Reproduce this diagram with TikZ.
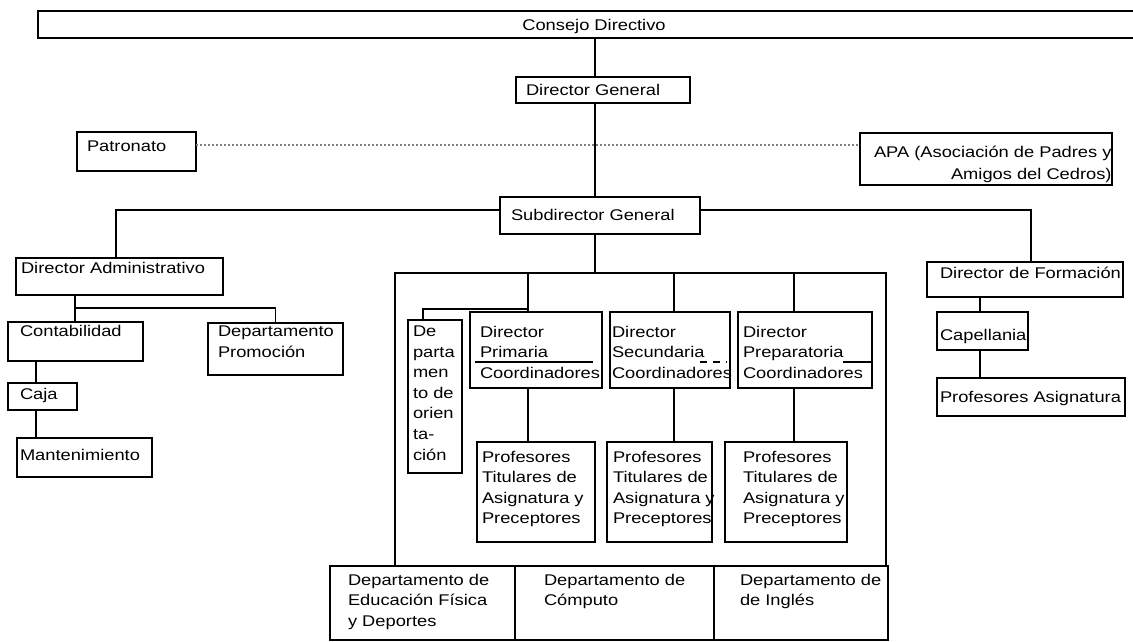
\documentclass[tikz,border=0pt]{standalone}
\usepackage{fontspec}
\setmainfont{Liberation Sans}[FakeStretch=1.18]
\newcommand\fsz{\fontsize{15.5pt}{20.6pt}\selectfont}
\newcommand\bxn[5]{\node[bx, minimum width={#4-#2}, minimum height={#5-#3}] (#1) at ({(#2+#4)/2},{(#3+#5)/2}) {};}
\newcommand\tn[4]{\node[txt] (#1) at (#2,{#3-11.2}) {#4};}
\begin{document}
\begin{tikzpicture}[x=1pt,y=-1pt,
  bx/.style={draw, line width=1.5pt, inner sep=0pt, outer sep=0pt},
  ln/.style={line width=1.5pt},
  sepl/.style={line width=1.2pt},
  txt/.style={inner sep=0pt, outer sep=0pt, anchor=north west, align=left, font=\fsz},
  dotl/.style={gray, line width=1.1pt, dash pattern=on 2pt off 2pt}]
\useasboundingbox (0,0) rectangle (1133,641);
% boxes
\bxn{cons}{38}{11}{1150}{38}
\bxn{dg}{516}{77}{690}{103}
\bxn{pat}{77}{132}{196}{171}
\bxn{apa}{860}{133}{1112}{185}
\bxn{sub}{500}{197}{700}{234}
\bxn{da}{16}{258}{223}{295}
\bxn{cont}{8}{322}{143}{361}
\bxn{promo}{208}{323}{343}{375}
\bxn{caja}{8}{383}{77}{410}
\bxn{mant}{17}{438}{152}{477}
\bxn{cen}{395}{273}{886}{566}
\bxn{ori}{408}{320}{462}{473}
\bxn{pri}{470}{312}{602}{388}
\bxn{sec}{610}{312}{730}{388}
\bxn{pre}{738}{312}{872}{388}
\bxn{pro1}{477}{442}{595}{542}
\bxn{pro2}{607}{442}{712}{542}
\bxn{pro3}{725}{442}{847}{542}
\bxn{bot1}{330}{566}{515}{640}
\bxn{bot2}{515}{566}{714}{640}
\bxn{bot3}{714}{566}{888}{640}
\bxn{df}{927}{262}{1123}{297}
\bxn{cap}{937}{312}{1028}{350}
\bxn{pa}{937}{378}{1125}{416}
% texts
\node[inner sep=0pt, anchor=base, font=\fsz] (tcons) at (594,30) {Consejo Directivo};
\tn{tdg}{526}{95}{Director General}
\tn{tpat}{87}{152}{Patronato}
\tn{tapa1}{874}{157}{APA (Asociación de Padres y}
\tn{tapa2}{951}{179}{Amigos del Cedros)}
\tn{tsub}{511}{220}{Subdirector General}
\tn{tda}{21}{273}{Director Administrativo}
\tn{tcont}{20}{336}{Contabilidad}
\tn{tpromo}{218}{337}{Departamento\\Promoción}
\tn{tcaja}{20}{399}{Caja}
\tn{tmant}{20}{460}{Mantenimiento}
\tn{tori}{413}{337}{De\\parta\\men\\to de\\orien\\ta-\\ción}
\tn{tpri}{480}{337}{Director\\Primaria\\Coordinadores}
\tn{tsec}{612}{337}{Director\\Secundaria\\Coordinadores}
\tn{tpre}{743}{337}{Director\\Preparatoria\\Coordinadores}
\tn{tpro1}{482}{462}{Profesores\\Titulares de\\Asignatura y\\Preceptores}
\tn{tpro2}{613}{462}{Profesores\\Titulares de\\Asignatura y\\Preceptores}
\tn{tpro3}{743}{462}{Profesores\\Titulares de\\Asignatura y\\Preceptores}
\tn{tb1}{348}{585}{Departamento de\\Educación Física\\y Deportes}
\tn{tb2}{544}{585}{Departamento de\\Cómputo}
\tn{tb3}{740}{585}{Departamento de\\de Inglés}
\tn{tdf}{940}{278}{Director de Formación}
\tn{tcap}{940}{340}{Capellania}
\tn{tpa}{940}{402}{Profesores Asignatura}
% separators inside director boxes
\draw[sepl] (475,362) -- (593,362);
\draw[sepl, dash pattern=on 7pt off 6pt] (700,362) -- (727,362);
\draw[sepl] (843,362) -- (871,362);
% coordinates for connector lines
\coordinate (xt) at (595,0);
\coordinate (ys) at (0,210);
\coordinate (xda) at (116,0);
\coordinate (xdf) at (1031,0);
\coordinate (xa) at (528,0);
\coordinate (xb) at (674,0);
\coordinate (xc) at (794,0);
\coordinate (oj) at (423,309);
\coordinate (xl) at (75,0);
\coordinate (yl) at (0,308);
\coordinate (xk) at (36,0);
\coordinate (xf) at (980,0);
\coordinate (yd) at (0,145);
% connectors
\draw[ln] (cons.south -| xt) -- (dg.north -| xt);
\draw[ln] (dg.south -| xt) -- (sub.north -| xt);
\draw[dotl] (pat.east |- yd) -- (apa.west |- yd);
\draw[ln] (sub.west |- ys) -| (da.north -| xda);
\draw[ln] (sub.east |- ys) -| (df.north -| xdf);
\draw[ln] (sub.south -| xt) -- (cen.north -| xt);
\draw[ln] (cen.north -| xa) -- (pri.north -| xa);
\draw[ln] (cen.north -| xb) -- (sec.north -| xb);
\draw[ln] (cen.north -| xc) -- (pre.north -| xc);
\draw[ln] (ori.north -| oj) -- (oj) -- (oj -| xa);
\draw[ln] (pri.south -| xa) -- (pro1.north -| xa);
\draw[ln] (sec.south -| xb) -- (pro2.north -| xb);
\draw[ln] (pre.south -| xc) -- (pro3.north -| xc);
\draw[ln] (da.south -| xl) -- (cont.north -| xl);
\draw[ln] (xl |- yl) -| (promo.north);
\draw[ln] (cont.south -| xk) -- (caja.north -| xk);
\draw[ln] (caja.south -| xk) -- (mant.north -| xk);
\draw[ln] (df.south -| xf) -- (cap.north -| xf);
\draw[ln] (cap.south -| xf) -- (pa.north -| xf);
\end{tikzpicture}
\end{document}
